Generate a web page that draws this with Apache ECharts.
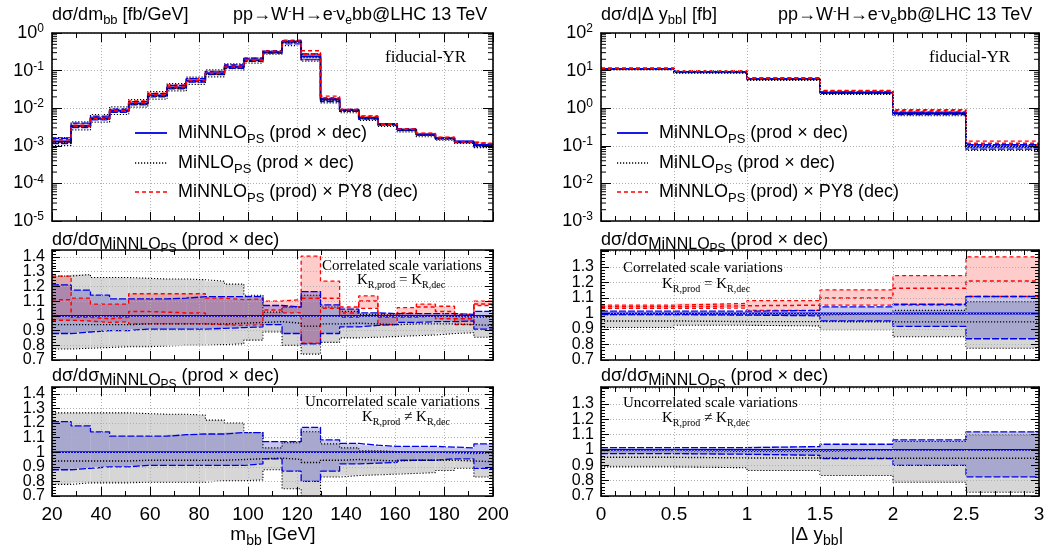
<!DOCTYPE html>
<html><head><meta charset="utf-8">
<script src="https://cdn.jsdelivr.net/npm/echarts@6/dist/echarts.min.js"></script>
<style>html,body{margin:0;padding:0;background:#fff}#c{width:1060px;height:552px}</style>
</head><body><div id="c"></div>
<script>
// ---------------- DATA ----------------
const mbbEdges = [20, 27.8, 35.7, 43.5, 51.3, 59.1, 67.0, 74.8, 82.6, 90.4, 98.3, 106.1, 113.9, 121.7, 129.6, 137.4, 145.2, 153.0, 160.9, 168.7, 176.5, 184.3, 192.2, 200];
const mbbMiNNLO = [1.3e-3, 3.4e-3, 5.4e-3, 8.6e-3, 1.35e-2, 2.2e-2, 3.6e-2, 5.4e-2, 8.5e-2, 0.125, 0.19, 0.31, 0.58, 0.24, 0.017, 0.0089, 5.5e-3, 3.8e-3, 2.7e-3, 2.0e-3, 1.6e-3, 1.3e-3, 1.05e-3];
// ratios to MiNNLO (prod x dec)
const mbbMiNLO   = [0.94, 0.94, 0.94, 0.94, 0.945, 0.945, 0.945, 0.945, 0.945, 0.95, 0.955, 0.96, 0.95, 0.93, 0.945, 0.95, 0.945, 0.94, 0.945, 0.945, 0.945, 0.94, 0.935];
// correlated
const mbbGrayCUp = [1.27, 1.28, 1.26, 1.26, 1.255, 1.25, 1.25, 1.245, 1.235, 1.215, 1.14, 1.025, 1.06, 1.14, 1.06, 1.03, 1.01, 1.005, 1.0, 1.0, 0.995, 0.99, 0.99];
const mbbGrayCLo = [0.775, 0.78, 0.785, 0.79, 0.79, 0.795, 0.8, 0.8, 0.805, 0.81, 0.835, 0.89, 0.80, 0.74, 0.82, 0.85, 0.855, 0.86, 0.865, 0.87, 0.88, 0.885, 0.855];
const mbbBlueCUp = [1.21, 1.175, 1.14, 1.115, 1.115, 1.115, 1.12, 1.13, 1.13, 1.13, 1.13, 1.07, 1.06, 1.165, 1.075, 1.045, 1.02, 1.015, 1.015, 1.015, 1.015, 1.01, 1.03];
const mbbBlueCLo = [0.88, 0.89, 0.90, 0.90, 0.91, 0.91, 0.91, 0.91, 0.915, 0.92, 0.925, 0.94, 0.88, 0.81, 0.88, 0.925, 0.935, 0.94, 0.955, 0.96, 0.96, 0.965, 0.91];
const mbbRedCUp  = [1.27, 1.12, 1.08, 1.08, 1.15, 1.15, 1.15, 1.15, 1.12, 1.11, 1.115, 1.10, 1.11, 1.405, 1.235, 1.06, 1.135, 1.015, 1.055, 1.08, 1.065, 1.01, 1.10];
const mbbRedCMid = [1.11, 0.99, 0.98, 0.99, 1.03, 1.025, 1.02, 1.02, 1.0, 0.995, 1.0, 1.04, 1.06, 1.12, 1.12, 1.02, 1.10, 0.99, 1.02, 1.06, 1.03, 0.98, 1.08];
const mbbRedCLo  = [0.97, 0.965, 0.955, 0.96, 0.945, 0.945, 0.945, 0.945, 0.94, 0.935, 0.94, 1.0, 1.02, 0.814, 1.05, 0.99, 1.05, 0.94, 0.99, 1.0, 0.98, 0.94, 1.07];
// uncorrelated
const mbbGrayUUp = [1.27, 1.27, 1.27, 1.27, 1.265, 1.26, 1.26, 1.255, 1.22, 1.20, 1.135, 1.03, 1.065, 1.14, 1.057, 1.03, 1.01, 1.005, 1.0, 1.0, 0.995, 0.99, 0.995];
const mbbGrayULo = [0.78, 0.79, 0.79, 0.79, 0.795, 0.795, 0.795, 0.795, 0.805, 0.805, 0.81, 0.88, 0.75, 0.68, 0.83, 0.84, 0.845, 0.85, 0.855, 0.86, 0.875, 0.89, 0.83];
const mbbBlueUUp = [1.21, 1.18, 1.14, 1.11, 1.11, 1.11, 1.12, 1.125, 1.125, 1.135, 1.135, 1.073, 1.073, 1.17, 1.085, 1.06, 1.048, 1.04, 1.04, 1.04, 1.035, 1.03, 1.057];
const mbbBlueULo = [0.88, 0.89, 0.90, 0.90, 0.91, 0.91, 0.91, 0.91, 0.91, 0.91, 0.92, 0.955, 0.87, 0.80, 0.87, 0.92, 0.925, 0.93, 0.945, 0.945, 0.955, 0.955, 0.89];

const dyEdges = [0, 0.5, 1, 1.5, 2, 2.5, 3];
const dyMiNNLO = [11.1, 9.2, 6.0, 2.6, 0.74, 0.097];
const dyMiNLO   = [0.952, 0.948, 0.948, 0.946, 0.946, 0.946];
const dyGrayCUp = [0.993, 0.99, 0.99, 1.0, 1.02, 1.076];
const dyGrayCLo = [0.91, 0.924, 0.92, 0.895, 0.85, 0.776];
const dyBlueCUp = [1.015, 1.015, 1.02, 1.043, 1.06, 1.11];
const dyBlueCLo = [0.993, 0.99, 0.985, 0.952, 0.917, 0.837];
const dyRedCUp  = [1.054, 1.065, 1.083, 1.152, 1.245, 1.365];
const dyRedCMid = [1.043, 1.05, 1.054, 1.10, 1.163, 1.21];
const dyRedCLo  = [1.033, 1.035, 1.02, 1.054, 1.054, 1.11];
const dyGrayUUp = [0.995, 0.99, 0.99, 1.0, 1.055, 1.10];
const dyGrayULo = [0.89, 0.884, 0.866, 0.834, 0.79, 0.724];
const dyBlueUUp = [1.015, 1.015, 1.022, 1.037, 1.066, 1.118];
const dyBlueULo = [0.976, 0.972, 0.965, 0.943, 0.90, 0.825];

const mbbTicks = [20, 40, 60, 80, 100, 120, 140, 160, 180, 200];
const dyTicks = [0, 0.5, 1, 1.5, 2, 2.5, 3];

// ---------------- HELPERS ----------------
const SANS = '"Liberation Sans", Arial, Helvetica, sans-serif';
const SERIF = '"Liberation Serif", "Times New Roman", serif';
const BLUE = '#0000e6', RED = '#ff0000', BLACK = '#000';
const FILL_GRAY = '#d6d6d6', FILL_RED = 'rgba(255,0,0,0.2)', FILL_BLUE = 'rgba(20,20,180,0.24)';

const mult = (a, r) => a.map((v, i) => v * r[i]);
const div = (a, b) => a.map((v, i) => v / b[i]);

// rich text with sub/superscripts: extra = {name: [fontSize, baselineShift(+down)]}
function mkRich(fb, fam, extra) {
  const H = Math.round(fb * 1.8);
  const r = { b: { fontSize: fb, fontFamily: fam, lineHeight: H, height: H, verticalAlign: 'middle', fill: '#000', color: '#000' } };
  for (const k in extra) {
    const f = extra[k][0], dy = extra[k][1];
    const c = H / 2 + 0.31 * fb + dy - 0.31 * f;
    if (c >= H / 2) {
      const L = 2 * (H - c);
      r[k] = { fontSize: f, fontFamily: fam, lineHeight: L, height: L, verticalAlign: 'bottom', fill: '#000', color: '#000' };
    } else {
      const L = 2 * c;
      r[k] = { fontSize: f, fontFamily: fam, lineHeight: L, height: L, verticalAlign: 'top', fill: '#000', color: '#000' };
    }
  }
  return r;
}

const GRIDS = [
  { left: 52, top: 33, width: 441, height: 188 },
  { left: 52, top: 250, width: 441, height: 110 },
  { left: 52, top: 387, width: 441, height: 109 },
  { left: 601, top: 33, width: 438, height: 188 },
  { left: 601, top: 250, width: 438, height: 110 },
  { left: 601, top: 387, width: 438, height: 109 }
];

const lineAx = { show: true, onZero: false, lineStyle: { color: '#000', width: 1.6 } };
const gridLine = { show: true, lineStyle: { color: '#b0b0b0', width: 1, type: [1, 2] } };
const ratioLabel = { margin: 7, fontSize: 16, fontFamily: SANS, color: '#000', interval: 0, hideOverlap: false };

const xAxes = [], yAxes = [], extraY = [];
GRIDS.forEach((g, gi) => {
  const isM = gi < 3;
  const xmin = isM ? mbbTicks[0] : dyTicks[0];
  const xmax = isM ? mbbTicks[mbbTicks.length - 1] : dyTicks[dyTicks.length - 1];
  const xint = isM ? mbbTicks[1] - mbbTicks[0] : dyTicks[1] - dyTicks[0];
  const xbase = {
    type: 'value', gridIndex: gi, min: xmin, max: xmax, interval: xint, z: 10,
    axisLine: lineAx,
    axisTick: { show: true, inside: true, length: 9, lineStyle: { color: '#000', width: 1 } },
    minorTick: { show: true, inside: true, splitNumber: isM ? 2 : 5, length: 5, lineStyle: { color: '#000', width: 1 } },
    minorSplitLine: { show: false }
  };
  const showLab = (gi === 2 || gi === 5);
  xAxes.push(Object.assign({}, xbase, {
    position: 'bottom', splitLine: gridLine,
    axisLabel: { show: showLab, margin: 9, fontSize: 19, fontFamily: SANS, color: '#000', interval: 0,
      showMinLabel: true, showMaxLabel: true,
      formatter: v => String(+v.toFixed(2)) }
  }));
  xAxes.push(Object.assign({}, xbase, { position: 'top', splitLine: { show: false }, axisLabel: { show: false } }));

  const isLog = (gi === 0 || gi === 3);
  let ybase;
  const ymax = isM ? 1.447 : 1.41;
  if (isLog) {
    ybase = {
      type: 'log', logBase: 10, gridIndex: gi, min: gi === 0 ? 1e-5 : 1e-3, max: gi === 0 ? 1 : 100, z: 10,
      axisLine: lineAx,
      axisTick: { show: true, inside: true, length: 10, lineStyle: { color: '#000', width: 1 } },
      minorTick: { show: false }, minorSplitLine: { show: false }
    };
  } else {
    ybase = {
      type: 'value', gridIndex: gi, min: 0.7, max: ymax, interval: 0.1, z: 10,
      axisLine: lineAx,
      axisTick: { show: true, inside: true, length: 8, lineStyle: { color: '#000', width: 1 } },
      minorTick: { show: true, inside: true, splitNumber: 5, length: 4, lineStyle: { color: '#000', width: 1 } },
      minorSplitLine: { show: false }
    };
  }
  const labCut = isM ? 1.42 : 1.35;
  yAxes.push(Object.assign({}, ybase, {
    position: 'left', splitLine: gridLine,
    axisLabel: isLog ? {
      margin: 8, showMinLabel: true, showMaxLabel: true, interval: 0,
      formatter: v => '{b|10}{p|' + Math.round(Math.log10(v)) + '}',
      rich: mkRich(18, SANS, { p: [12, -6] })
    } : Object.assign({}, ratioLabel, {
      formatter: v => (v > labCut || v < 0.75 ? '' : String(Math.round(v * 10) / 10))
    })
  }));
  yAxes.push(Object.assign({}, ybase, { position: 'right', splitLine: { show: false }, axisLabel: { show: false } }));
  if (!isLog) {
    // separate label-only axis for the bottom "0.7" label
    extraY.push({ type: 'value', gridIndex: gi, min: 0.7, max: ymax, interval: 0.1, position: 'left', z: 10,
      axisLine: { show: false }, axisTick: { show: false }, splitLine: { show: false },
      axisLabel: Object.assign({}, ratioLabel, { showMinLabel: true, formatter: v => (v < 0.75 ? '0.7' : '') }) });
  }
});
const allY = yAxes.concat(extraY);

function stepData(edges, vals) {
  const d = vals.map((v, i) => [edges[i], v]);
  d.push([edges[edges.length - 1], vals[vals.length - 1]]);
  return d;
}
function step(gi, edges, vals, color, type, width, z) {
  return { type: 'line', xAxisIndex: gi * 2, yAxisIndex: gi * 2, step: 'end', symbol: 'none', z: z, silent: true,
    clip: true, data: stepData(edges, vals), lineStyle: { color: color, width: width, type: type } };
}
function band(gi, edges, lo, hi, color, z) {
  return { type: 'custom', xAxisIndex: gi * 2, yAxisIndex: gi * 2, z: z, silent: true,
    data: lo.map((v, i) => [edges[i], edges[i + 1], v, hi[i]]),
    encode: { x: [0, 1], y: [2, 3] },
    renderItem: function (params, api) {
      const a = api.coord([api.value(0), api.value(3)]);
      const b = api.coord([api.value(1), api.value(2)]);
      const cs = params.coordSys;
      const r = echarts.graphic.clipRectByRect(
        { x: a[0], y: a[1], width: b[0] - a[0], height: b[1] - a[1] },
        { x: cs.x, y: cs.y, width: cs.width, height: cs.height });
      if (!r) return null;
      return { type: 'rect', shape: r, style: { fill: color } };
    } };
}
function logMinor(gi, k0, k1, xv) {
  const d = [];
  for (let k = k0; k < k1; k++) for (let m = 2; m <= 9; m++) d.push([xv, m * Math.pow(10, k)]);
  return { type: 'custom', xAxisIndex: gi * 2, yAxisIndex: gi * 2, z: 11, silent: true, data: d,
    encode: { x: 0, y: 1 },
    renderItem: function (params, api) {
      const y = api.coord([api.value(0), api.value(1)])[1];
      const cs = params.coordSys;
      const ls = { stroke: '#000', lineWidth: 1 };
      return { type: 'group', children: [
        { type: 'line', shape: { x1: cs.x, y1: y, x2: cs.x + 5, y2: y }, style: ls },
        { type: 'line', shape: { x1: cs.x + cs.width - 5, y1: y, x2: cs.x + cs.width, y2: y }, style: ls }
      ] };
    } };
}

const DASH_B = [7, 2], DASH_R = [4, 3], DOT = [1.2, 1.8];
const series = [];
function panelTop(gi, E, C, mnlo, gUp, gLo, bUp, bLo, rUp, rMid, rLo) {
  series.push(band(gi, E, mult(C, bLo), mult(C, bUp), FILL_BLUE, 3));
  series.push(step(gi, E, mult(C, gUp), BLACK, DOT, 1.2, 4));
  series.push(step(gi, E, mult(C, gLo), BLACK, DOT, 1.2, 4));
  series.push(step(gi, E, mult(C, rUp), RED, DASH_R, 1.3, 5));
  series.push(step(gi, E, mult(C, rLo), RED, DASH_R, 1.3, 5));
  series.push(step(gi, E, mult(C, bUp), BLUE, DASH_B, 1.2, 6));
  series.push(step(gi, E, mult(C, bLo), BLUE, DASH_B, 1.2, 6));
  series.push(step(gi, E, C, BLUE, 'solid', 1.8, 7));
  series.push(step(gi, E, mult(C, mnlo), BLACK, DOT, 1.4, 8));
  series.push(step(gi, E, mult(C, rMid), RED, DASH_R, 1.6, 8));
}
function panelRatio(gi, E, C, mnlo, gUp, gLo, bUp, bLo, rUp, rMid, rLo) {
  series.push(band(gi, E, gLo, gUp, FILL_GRAY, 1));
  if (rUp) series.push(band(gi, E, rLo, rUp, FILL_RED, 2));
  series.push(band(gi, E, bLo, bUp, FILL_BLUE, 3));
  series.push(step(gi, E, gUp, BLACK, DOT, 1.1, 4));
  series.push(step(gi, E, gLo, BLACK, DOT, 1.1, 4));
  if (rUp) {
    series.push(step(gi, E, rUp, RED, DASH_R, 1.3, 5));
    series.push(step(gi, E, rLo, RED, DASH_R, 1.3, 5));
    series.push(step(gi, E, rMid, RED, DASH_R, 1.5, 5));
  }
  series.push(step(gi, E, bUp, BLUE, DASH_B, 1.3, 6));
  series.push(step(gi, E, bLo, BLUE, DASH_B, 1.3, 6));
  series.push(step(gi, E, div(C, C), BLUE, 'solid', 1.8, 7));
  series.push(step(gi, E, mnlo, BLACK, DOT, 1.4, 8));
}
panelTop(0, mbbEdges, mbbMiNNLO, mbbMiNLO, mbbGrayCUp, mbbGrayCLo, mbbBlueCUp, mbbBlueCLo, mbbRedCUp, mbbRedCMid, mbbRedCLo);
panelRatio(1, mbbEdges, mbbMiNNLO, mbbMiNLO, mbbGrayCUp, mbbGrayCLo, mbbBlueCUp, mbbBlueCLo, mbbRedCUp, mbbRedCMid, mbbRedCLo);
panelRatio(2, mbbEdges, mbbMiNNLO, mbbMiNLO, mbbGrayUUp, mbbGrayULo, mbbBlueUUp, mbbBlueULo, null, null, null);
panelTop(3, dyEdges, dyMiNNLO, dyMiNLO, dyGrayCUp, dyGrayCLo, dyBlueCUp, dyBlueCLo, dyRedCUp, dyRedCMid, dyRedCLo);
panelRatio(4, dyEdges, dyMiNNLO, dyMiNLO, dyGrayCUp, dyGrayCLo, dyBlueCUp, dyBlueCLo, dyRedCUp, dyRedCMid, dyRedCLo);
panelRatio(5, dyEdges, dyMiNNLO, dyMiNLO, dyGrayUUp, dyGrayULo, dyBlueUUp, dyBlueULo, null, null, null);
series.push(logMinor(0, -5, 0, 20));
series.push(logMinor(3, -3, 2, 0));

// ---------------- TEXT ----------------
const graphics = [];
function txt(x, y, text, rich, align, fam, fs) {
  graphics.push({ type: 'text', x: x, y: y, z: 20, silent: true,
    style: { text: text, rich: rich, align: align || 'left', verticalAlign: 'middle', fill: '#000',
      fontFamily: fam || SANS, fontSize: fs || 17 } });
}
const rTitle = mkRich(18, SANS, { s: [13, 4] });
const rProc = mkRich(18, SANS, { p: [11, -6], s: [12, 4] });
const rRatio = mkRich(18, SANS, { m: [16, 3.5], q: [12, 7] });
const rLeg = mkRich(18, SANS, { s: [13, 4.5] });
const rK = mkRich(15, SERIF, { s: [10, 3.5] });
const rX = mkRich(19, SANS, { s: [14, 4.5] });

[[0, 52, 233, '{b|dσ/dm}{s|bb}{b| [fb/GeV]}'], [1, 601, 778, '{b|dσ/d|Δ y}{s|bb}{b|| [fb]}']].forEach(function (p) {
  txt(p[1], 15, p[3], rTitle);
  txt(p[2], 15, '{b|pp→W}{p|-}{b|H→e}{p|-}{b|ν}{s|e}{b|bb@LHC 13 TeV}', rProc);
  txt(p[1], 240, '{b|dσ/dσ}{m|MiNNLO}{q|PS}{b| (prod × dec)}', rRatio);
  txt(p[1], 376, '{b|dσ/dσ}{m|MiNNLO}{q|PS}{b| (prod × dec)}', rRatio);
});
// fiducial-YR
graphics.push({ type: 'text', x: 385, y: 58, z: 20, silent: true, style: { text: 'fiducial-YR', fontFamily: SERIF, fontSize: 17, fill: '#000', verticalAlign: 'middle' } });
graphics.push({ type: 'text', x: 929, y: 58, z: 20, silent: true, style: { text: 'fiducial-YR', fontFamily: SERIF, fontSize: 17, fill: '#000', verticalAlign: 'middle' } });
// scale variation notes
function note(x, y, t) { graphics.push({ type: 'text', x: x, y: y, z: 20, silent: true, style: { text: t, fontFamily: SERIF, fontSize: 15, fill: '#000', verticalAlign: 'middle' } }); }
note(322, 266, 'Correlated scale variations');
txt(357, 280, '{b|K}{s|R,prod}{b| = K}{s|R,dec}', rK);
note(623, 268, 'Correlated scale variations');
txt(662, 284, '{b|K}{s|R,prod}{b| = K}{s|R,dec}', rK);
note(305, 402, 'Uncorrelated scale variations');
txt(362, 417, '{b|K}{s|R,prod}{b| ≠ K}{s|R,dec}', rK);
note(623, 403, 'Uncorrelated scale variations');
txt(662, 418, '{b|K}{s|R,prod}{b| ≠ K}{s|R,dec}', rK);
// legends
const legRows = [
  [133, BLUE, 'solid', 1.8, '{b|MiNNLO}{s|PS}{b| (prod × dec)}'],
  [163, BLACK, DOT, 1.4, '{b|MiNLO}{s|PS}{b| (prod × dec)}'],
  [192, RED, DASH_R, 1.4, '{b|MiNNLO}{s|PS}{b| (prod) × PY8 (dec)}']
];
[[135, 167, 178], [617, 648, 659]].forEach(function (L) {
  legRows.forEach(function (r) {
    graphics.push({ type: 'line', z: 20, silent: true, shape: { x1: L[0], y1: r[0], x2: L[1], y2: r[0] },
      style: { stroke: r[1], lineWidth: r[3], lineDash: r[2] === 'solid' ? null : r[2] } });
    txt(L[2], r[0], r[4], rLeg);
  });
});
// x titles
txt(273, 535, '{b|m}{s|bb}{b| [GeV]}', rX, 'center');
txt(817, 535, '{b||Δ y}{s|bb}{b||}', rX, 'center');

const chart = echarts.init(document.getElementById('c'), null, { renderer: 'canvas' });
chart.setOption({
  animation: false,
  backgroundColor: '#fff',
  grid: GRIDS.map(g => Object.assign({ show: false, containLabel: false }, g)),
  xAxis: xAxes,
  yAxis: allY,
  series: series,
  graphic: graphics
});
</script></body></html>
